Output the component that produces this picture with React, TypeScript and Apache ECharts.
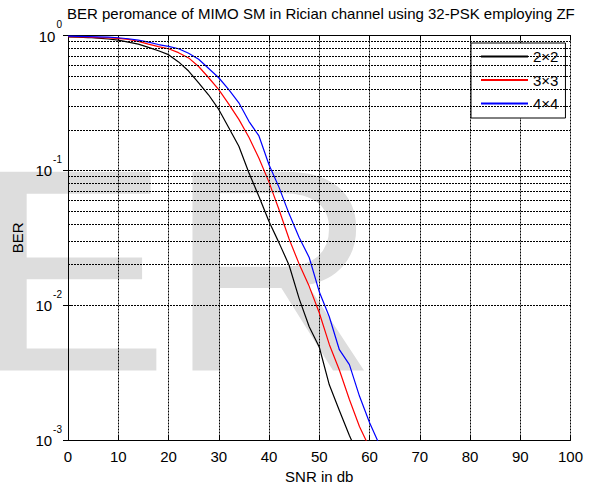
import React, { useEffect, useRef } from 'react';
import * as echarts from 'echarts';

const titleText = 'BER peromance of MIMO SM in Rician channel using 32-PSK employing ZF';
const xAxisName = 'SNR in db';
const yAxisName = 'BER';
const seriesNames = ['2×2', '3×3', '4×4'];
const seriesColors = ['#000000', '#ff0000', '#0000ff'];

const snr = [0, 2, 4, 6, 8, 10, 12, 14, 16, 18, 20, 22, 24, 26, 28, 30, 32, 34, 36, 38, 40, 42, 44, 46, 48, 50, 52, 54, 56, 58, 60, 62, 64];

const ber2x2 = [0.977, 0.973, 0.966, 0.955, 0.942, 0.925, 0.893, 0.863, 0.817, 0.771, 0.721, 0.637, 0.545, 0.445, 0.362, 0.283, 0.207, 0.151, 0.0959, 0.064, 0.0417, 0.029, 0.0198, 0.0112, 0.00692, 0.0049, 0.00257, 0.00166, 0.00108, 0.00074];
const ber3x3 = [0.982, 0.977, 0.973, 0.966, 0.96, 0.951, 0.935, 0.904, 0.863, 0.826, 0.798, 0.746, 0.682, 0.589, 0.486, 0.397, 0.31, 0.239, 0.176, 0.123, 0.0818, 0.051, 0.031, 0.0202, 0.0138, 0.00879, 0.00512, 0.00331, 0.002, 0.00126, 0.00088];
const ber4x4 = [0.989, 0.986, 0.982, 0.977, 0.971, 0.962, 0.946, 0.925, 0.893, 0.857, 0.83, 0.798, 0.738, 0.667, 0.569, 0.486, 0.397, 0.317, 0.231, 0.18, 0.11, 0.0748, 0.0476, 0.0318, 0.0226, 0.0126, 0.00822, 0.00468, 0.00363, 0.00212, 0.00135, 0.00092, 0.00063];

const xMin = 0;
const xMax = 100;
const xInterval = 10;
const yMin = 0.001;
const yMax = 1;
const minorGridValues = [
  0.002, 0.003, 0.004, 0.005, 0.006, 0.007, 0.008, 0.009,
  0.02, 0.03, 0.04, 0.05, 0.06, 0.07, 0.08, 0.09,
  0.2, 0.3, 0.4, 0.5, 0.6, 0.7, 0.8, 0.9,
];
const watermarkText = 'ER';

export default function App() {
  const ref = useRef<HTMLDivElement>(null);
  useEffect(() => {
    const chart = echarts.init(ref.current!, null, { renderer: 'svg' });
    const font = "'Liberation Sans', Arial, Helvetica, sans-serif";
    const pairs = (arr: number[]) => arr.map((v, i) => [snr[i], v]);
    const dotted = { color: '#000', width: 1, type: [2, 1] as number[] };
    const allBer = [ber2x2, ber3x3, ber4x4];

    chart.setOption({
      animation: false,
      backgroundColor: '#fff',
      title: {
        text: titleText,
        left: 67,
        top: 6,
        padding: 0,
        textStyle: { fontSize: 15, fontWeight: 'normal', color: '#000', fontFamily: font },
      },
      graphic: {
        elements: [
          {
            type: 'text',
            x: -24,
            y: 270,
            z: -10,
            silent: true,
            style: {
              text: watermarkText,
              fontSize: 289,
              fontFamily: font,
              fill: '#dddddd',
              align: 'left',
              verticalAlign: 'middle',
            },
          },
        ],
      },
      legend: {
        data: seriesNames,
        orient: 'vertical',
        left: 471,
        top: 43,
        itemWidth: 47,
        itemHeight: 14,
        itemGap: 8.5,
        padding: [6, 7, 7, 9],
        backgroundColor: '#fff',
        borderColor: '#000',
        borderWidth: 1,
        itemStyle: { opacity: 0 },
        textStyle: { fontSize: 15, color: '#000', fontFamily: font },
      },
      grid: { left: 68, right: 19.5, top: 35.5, bottom: 44, containLabel: false },
      xAxis: [
        {
          type: 'value',
          min: xMin,
          max: xMax,
          interval: xInterval,
          name: xAxisName,
          nameLocation: 'middle',
          nameGap: 28,
          nameTextStyle: { fontSize: 15, color: '#000', fontFamily: font },
          axisLine: { lineStyle: { color: '#000', width: 1 } },
          axisTick: { inside: true, length: 5, lineStyle: { color: '#000' } },
          axisLabel: { fontSize: 15, color: '#000', fontFamily: font, margin: 9 },
          splitLine: { show: true, lineStyle: dotted },
        },
        {
          type: 'value',
          position: 'top',
          min: xMin,
          max: xMax,
          interval: xInterval,
          axisLine: { lineStyle: { color: '#000', width: 1 } },
          axisTick: { inside: true, length: 5, lineStyle: { color: '#000' } },
          axisLabel: { show: false },
          splitLine: { show: false },
        },
      ],
      yAxis: [
        {
          type: 'log',
          logBase: 10,
          min: yMin,
          max: yMax,
          name: yAxisName,
          nameLocation: 'middle',
          nameGap: 37,
          nameRotate: 90,
          nameTextStyle: { fontSize: 15, color: '#000', fontFamily: font },
          axisLine: { lineStyle: { color: '#000', width: 1 } },
          axisTick: { inside: true, length: 5, lineStyle: { color: '#000' } },
          axisLabel: {
            margin: 6,
            formatter: (v: number) => `{b|10}{s|${Math.round(Math.log10(v))}}`,
            rich: {
              b: { fontSize: 15, color: '#000', fontFamily: font, verticalAlign: 'bottom', lineHeight: 16 },
              s: { fontSize: 10, color: '#000', fontFamily: font, verticalAlign: 'bottom', lineHeight: 10, padding: [0, 0, 14, 1] },
            },
          },
          splitLine: { show: true, lineStyle: dotted },
        },
        {
          type: 'log',
          logBase: 10,
          position: 'right',
          min: yMin,
          max: yMax,
          axisLine: { lineStyle: { color: '#000', width: 1 } },
          axisTick: { inside: true, length: 5, lineStyle: { color: '#000' } },
          axisLabel: { show: false },
          splitLine: { show: false },
        },
      ],
      series: [
        {
          type: 'line',
          name: '__minorGrid',
          data: [],
          z: 1,
          silent: true,
          markLine: {
            silent: true,
            symbol: ['none', 'none'],
            label: { show: false },
            lineStyle: dotted,
            data: minorGridValues.map((v) => ({ yAxis: v })),
          },
        },
        ...seriesNames.map((name, i) => ({
          type: 'line',
          name,
          data: pairs(allBer[i]),
          showSymbol: false,
          symbol: 'none',
          clip: true,
          z: 3,
          lineStyle: { color: seriesColors[i], width: 1.2 },
          itemStyle: { color: seriesColors[i] },
        })),
      ],
    });
    return () => chart.dispose();
  }, []);
  return <div ref={ref} style={{ position: 'absolute', left: 0, top: 0, width: 590, height: 489 }} />;
}
